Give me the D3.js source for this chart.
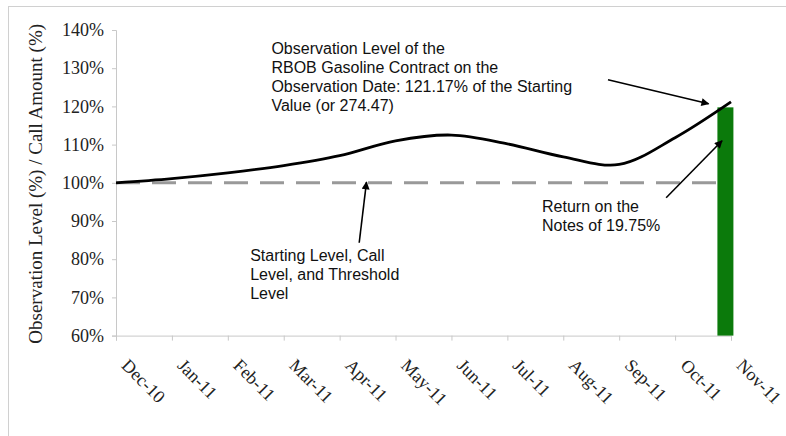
<!DOCTYPE html>
<html><head><meta charset="utf-8">
<script src="https://cdn.jsdelivr.net/npm/d3@7"></script>
<style>body{margin:0;background:#fff}svg{display:block}</style>
</head><body>
<svg id="c" width="786" height="436"></svg>
<script>
const months = ["Dec-10","Jan-11","Feb-11","Mar-11","Apr-11","May-11","Jun-11","Jul-11","Aug-11","Sep-11","Oct-11","Nov-11"];
const observationLevel = [100, 101.1, 102.6, 104.5, 107.1, 111.0, 112.5, 110.2, 106.8, 104.8, 111.8, 121.17];
const startingLevel = 100;
const returnBar = [{pos: 10.9, value: 119.75}];
const yTicks = [60, 70, 80, 90, 100, 110, 120, 130, 140];
const yTitle = "Observation Level (%) / Call Amount (%)";
const notes = [
  {lines:["Observation Level of the","RBOB Gasoline Contract on the","Observation Date: 121.17% of the Starting","Value (or 274.47)"], pos:2.78, value:133.6},
  {lines:["Starting Level, Call","Level, and Threshold","Level"], pos:2.4, value:79.5},
  {lines:["Return on the","Notes of 19.75%"], pos:7.62, value:92.3}
];
const arrows = [
  {from:[8.8,127.0], to:[10.6,120.7]},
  {from:[9.84,96.1], to:[10.84,111.0]},
  {from:[4.35,84.3], to:[4.48,100.2]}
];

const serif = "'Liberation Serif','Times New Roman',serif";
const sans = "'Liberation Sans',Arial,sans-serif";
const svg = d3.select("#c");
const m = {l:116, r:731, t:30, b:335.6};
const x = d3.scaleLinear().domain([0, months.length-1]).range([m.l, m.r]);
const y = d3.scaleLinear().domain([60, 140]).range([m.b, m.t]);

svg.append("rect").attr("x",8.5).attr("y",6.5).attr("width",800).attr("height",500)
  .attr("fill","none").attr("stroke","#d0d0d0");

svg.append("defs").append("marker").attr("id","ah").attr("viewBox","0 0 10 10")
  .attr("refX",9).attr("refY",5).attr("markerWidth",10).attr("markerHeight",8)
  .attr("markerUnits","userSpaceOnUse").attr("orient","auto")
  .append("path").attr("d","M0,0L10,5L0,10z").attr("fill","#000");

// y axis
const ya = svg.append("g").attr("transform",`translate(${m.l},0)`)
  .call(d3.axisLeft(y).tickValues(yTicks).tickSize(4).tickPadding(8).tickFormat(d=>d+"%"));
ya.attr("font-family",null).attr("font-size",null);
ya.select(".domain").attr("stroke","#c8c8c8");
ya.selectAll(".tick line").attr("stroke","#c8c8c8");
ya.selectAll("text").style("font-family",serif).style("font-size","18px").attr("fill","#222");

// x axis
const xa = svg.append("g").attr("transform",`translate(0,${m.b})`)
  .call(d3.axisBottom(x).tickValues(d3.range(months.length)).tickSize(5).tickFormat(i=>months[i]));
xa.attr("font-family",null).attr("font-size",null);
xa.select(".domain").attr("stroke","#c8c8c8");
xa.selectAll(".tick line").attr("stroke","#c8c8c8");
xa.selectAll("text").style("font-family",serif).style("font-size","18px").attr("fill","#222")
  .attr("text-anchor","start").attr("y",0).attr("dy",0)
  .attr("transform","translate(4,31) rotate(45)");

// y title
svg.append("text").attr("transform",`translate(42,${(m.t+m.b)/2+1}) rotate(-90)`)
  .attr("text-anchor","middle").style("font-family",serif)
  .style("font-size","19px").attr("fill","#222").text(yTitle);

// bar
svg.selectAll(".bar").data(returnBar).join("rect").attr("class","bar")
  .attr("x",d=>x(d.pos)-8).attr("width",16)
  .attr("y",d=>y(d.value)).attr("height",d=>y(60)-y(d.value)).attr("fill","#0b7a0b");

// dashed starting level
svg.append("line").attr("x1",x(0)).attr("x2",x(months.length-1)-12)
  .attr("y1",y(startingLevel)).attr("y2",y(startingLevel))
  .attr("stroke","#999").attr("stroke-width",3).attr("stroke-dasharray","24,12");

// line
svg.append("path").datum(observationLevel)
  .attr("d", d3.line().x((d,i)=>x(i)).y(d=>y(d)).curve(d3.curveCatmullRom.alpha(0.5)))
  .attr("fill","none").attr("stroke","#000").attr("stroke-width",2.8);

// arrows
svg.selectAll(".arr").data(arrows).join("line").attr("class","arr")
  .attr("x1",d=>x(d.from[0])).attr("y1",d=>y(d.from[1]))
  .attr("x2",d=>x(d.to[0])).attr("y2",d=>y(d.to[1]))
  .attr("stroke","#000").attr("stroke-width",1.6).attr("marker-end","url(#ah)");

// notes
notes.forEach(n=>{
  const t = svg.append("text").style("font-family",sans)
    .style("font-size","16px").attr("fill","#111");
  n.lines.forEach((l,i)=>t.append("tspan").attr("x",x(n.pos)).attr("y",y(n.value)+i*19).text(l));
});
</script>
</body></html>
